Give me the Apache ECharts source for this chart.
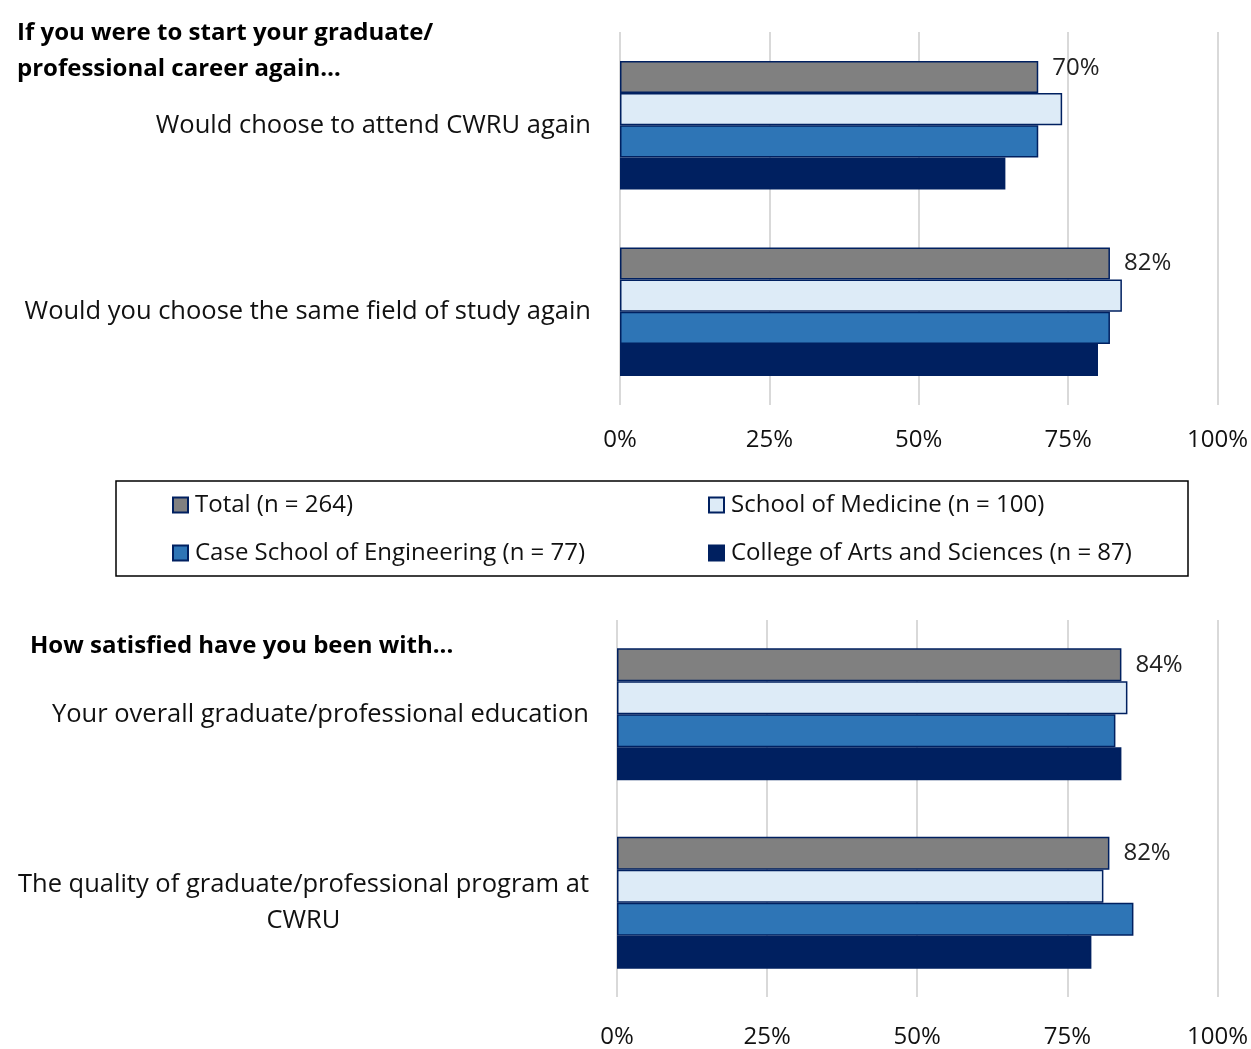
<!DOCTYPE html>
<html>
<head>
<meta charset="utf-8">
<script src="https://cdn.jsdelivr.net/npm/echarts@6/dist/echarts.min.js"></script>
<style>
html,body{margin:0;padding:0;background:#fff;}
#c{width:1251px;height:1049px;}
</style>
</head>
<body>
<div id="c"></div>
<script>
// ---- data ----
const seriesNames = ['Total (n = 264)', 'School of Medicine (n = 100)', 'Case School of Engineering (n = 77)', 'College of Arts and Sciences (n = 87)'];
const topCategories = ['Would choose to attend CWRU again', 'Would you choose the same field of study again'];
const bottomCategories = ['Your overall graduate/professional education', 'The quality of graduate/professional program at\nCWRU'];
const topTotal = [70, 82];
const topMedicine = [74, 84];
const topEngineering = [70, 82];
const topArts = [64.5, 80];
const bottomTotal = [84, 82];
const bottomMedicine = [85, 81];
const bottomEngineering = [83, 86];
const bottomArts = [84, 79];
const xTicks = [0, 25, 50, 75, 100];
const topTitle = 'If you were to start your graduate/\nprofessional career again…';
const bottomTitle = 'How satisfied have you been with...';

// ---- styles ----
const FONT = 'Open Sans';
const colors = ['#808080', '#DDEBF7', '#2E75B6', '#002060'];
const border = '#002060';
const CAT_SIZE = 25.5;

function xAxis(gridIndex, margin) {
  return {
    type: 'value', gridIndex, min: xTicks[0], max: xTicks[xTicks.length - 1], interval: xTicks[1] - xTicks[0],
    axisLine: {show: false}, axisTick: {show: false},
    splitLine: {show: true, lineStyle: {color: '#D9D9D9', width: 2}},
    axisLabel: {formatter: v => v + '%', fontFamily: FONT, fontSize: 24, color: '#111', margin}
  };
}
function yAxis(gridIndex, cats, margin) {
  return {
    type: 'category', gridIndex, data: cats, inverse: true,
    axisLine: {show: false}, axisTick: {show: false},
    axisLabel: {
      fontFamily: FONT, fontSize: CAT_SIZE, color: '#111', margin,
      formatter: v => {
        const parts = v.split('\n');
        if (parts.length === 1) return v;
        return '{a|' + parts[0] + '}\n{b|' + parts[1] + '}';
      },
      rich: {
        a: {fontFamily: FONT, fontSize: CAT_SIZE, color: '#111', lineHeight: 36, align: 'center'},
        b: {fontFamily: FONT, fontSize: CAT_SIZE, color: '#111', lineHeight: 36, align: 'center'}
      }
    }
  };
}

const topData = [topTotal, topMedicine, topEngineering, topArts];
const bottomData = [bottomTotal, bottomMedicine, bottomEngineering, bottomArts];

function makeSeries(dataSets, axisIdx, firstOffset, gap) {
  return dataSets.map((vals, s) => ({
    name: seriesNames[s], type: 'bar', xAxisIndex: axisIdx, yAxisIndex: axisIdx,
    barGap: '0%', barCategoryGap: gap,
    itemStyle: {color: colors[s], borderColor: border, borderWidth: 1.5},
    emphasis: {disabled: true},
    label: {
      show: s === 0, position: 'right', distance: 14,
      fontFamily: FONT, fontSize: 24, color: '#222',
      formatter: p => p.value + '%'
    },
    data: vals.map((v, i) => (s === 0 && i === 0 && firstOffset) ? {value: v, label: {offset: firstOffset}} : v)
  }));
}

const legendPos = [
  {left: 172, top: 493}, {left: 708, top: 493},
  {left: 172, top: 541}, {left: 708, top: 541}
];

const option = {
  animation: false,
  backgroundColor: '#fff',
  title: [
    {text: topTitle, left: 17, top: 15, padding: 0, textStyle: {fontFamily: FONT, fontSize: 24, fontWeight: 'bold', color: '#000', lineHeight: 36}},
    {text: bottomTitle, left: 30, top: 628, padding: 0, textStyle: {fontFamily: FONT, fontSize: 24, fontWeight: 'bold', color: '#000', lineHeight: 36}}
  ],
  grid: [
    {left: 620, right: 33, top: 32, height: 373},
    {left: 617, right: 33, top: 620, height: 378}
  ],
  xAxis: [xAxis(0, 23), xAxis(1, 28)],
  yAxis: [yAxis(0, topCategories, 29), yAxis(1, bottomCategories, 28)],
  legend: seriesNames.map((n, i) => ({
    data: [n], left: legendPos[i].left, top: legendPos[i].top,
    icon: 'rect', itemWidth: 15, itemHeight: 15, itemGap: 6, padding: 0,
    textStyle: {fontFamily: FONT, fontSize: 24, color: '#111', padding: [0, 0, 0, 2]},
    selectedMode: false
  })),
  graphic: [
    {type: 'rect', shape: {x: 116, y: 481, width: 1072, height: 95}, style: {fill: 'none', stroke: '#000', lineWidth: 1.5}, z: 0}
  ],
  series: [...makeSeries(topData, 0, [0, -9], '31%'), ...makeSeries(bottomData, 1, null, '30%')]
};

const chart = echarts.init(document.getElementById('c'), null, {renderer: 'canvas'});
chart.setOption(option);
</script>
</body>
</html>
